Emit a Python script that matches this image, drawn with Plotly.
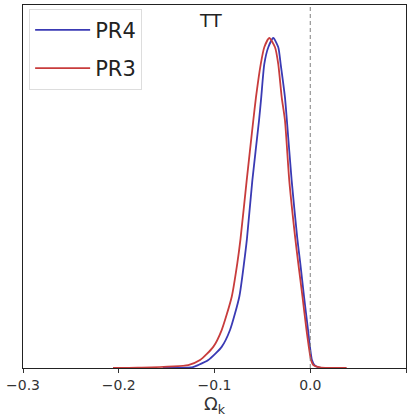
import plotly.graph_objects as go

# Omega_k posteriors (peak normalised to 1)
pr4_x = [-0.154, -0.1225, -0.1169, -0.1065, -0.0925, -0.0838, -0.0741, -0.0692, -0.0661,
         -0.0605, -0.0535, -0.0512, -0.0480, -0.0438, -0.0386,
         -0.0334, -0.0309, -0.0264, -0.0244, -0.0194, -0.0135, -0.0104, -0.0065,
         -0.0023, -0.0003, 0.0018, 0.0044, 0.010, 0.029]
pr4_y = [0.0, 0.003, 0.009, 0.024, 0.064, 0.115, 0.216, 0.317, 0.392,
         0.568, 0.750, 0.820, 0.921, 0.972, 1.0,
         0.972, 0.921, 0.820, 0.750, 0.568, 0.392, 0.317, 0.216,
         0.115, 0.064, 0.024, 0.009, 0.001, 0.0]

pr3_x = [-0.206, -0.18, -0.1274, -0.1151, -0.1013, -0.0925, -0.0820, -0.0762, -0.0728,
         -0.0664, -0.0595, -0.0567, -0.0517, -0.0480, -0.0428,
         -0.0368, -0.0334, -0.0298, -0.0264, -0.0219, -0.0156, -0.0125, -0.0081,
         -0.0039, -0.0015, 0.0008, 0.0032, 0.010, 0.038]
pr3_y = [0.0, 0.001, 0.009, 0.024, 0.064, 0.115, 0.216, 0.317, 0.392,
         0.568, 0.750, 0.820, 0.921, 0.972, 1.0,
         0.972, 0.921, 0.820, 0.750, 0.568, 0.392, 0.317, 0.216,
         0.115, 0.064, 0.024, 0.009, 0.002, 0.0]

x_ticks = [-0.3, -0.2, -0.1, 0.0, 0.1]
x_tick_text = ["\u22120.3", "\u22120.2", "\u22120.1", "0.0", "0.1"]

fig = go.Figure()

fig.add_trace(go.Scatter(
    x=pr4_x, y=pr4_y, mode="lines", name="PR4", legendgroup="pr4",
    line=dict(color="#3a3ab4", width=1.8, shape="spline", smoothing=0.6)
))
fig.add_trace(go.Scatter(
    x=pr3_x, y=pr3_y, mode="lines", name="PR3", legendgroup="pr3",
    line=dict(color="#c83c3c", width=1.8, shape="spline", smoothing=0.6)
))

fig.add_vline(x=0.0, line=dict(color="#808080", width=1, dash="4px,3px"))

fig.add_annotation(
    text="TT", x=0.49, y=0.957, xref="paper", yref="paper",
    xanchor="center", yanchor="middle",
    showarrow=False, font=dict(size=18, color="#222222")
)

fig.update_xaxes(
    range=[-0.3, 0.1], tickvals=x_ticks, ticktext=x_tick_text,
    ticks="outside", ticklen=4, tickcolor="#333333",
    tickfont=dict(size=14, color="#333333"),
    showline=True, linecolor="#222222", linewidth=1, mirror=True,
    showgrid=False, zeroline=False,
    title=dict(text="\u03a9<sub>k</sub>", font=dict(size=18, color="#333333"), standoff=5)
)
fig.update_yaxes(
    range=[0, 1.1], showticklabels=False, ticks="",
    showline=True, linecolor="#222222", linewidth=1, mirror=True,
    showgrid=False, zeroline=False
)

fig.update_layout(
    width=417, height=418,
    margin=dict(l=23, r=11, t=5, b=50),
    paper_bgcolor="white", plot_bgcolor="white",
    font=dict(family="DejaVu Sans"),
    legend=dict(
        x=0.016, y=0.99, xanchor="left", yanchor="top",
        font=dict(size=21, color="#222222"),
        bordercolor="#dddddd", borderwidth=1, bgcolor="white",
        traceorder="grouped", tracegroupgap=8, itemwidth=55
    ),
    showlegend=True
)

fig.write_html("out.html", config={"displayModeBar": False},
               post_script="document.body.style.margin='0';")
